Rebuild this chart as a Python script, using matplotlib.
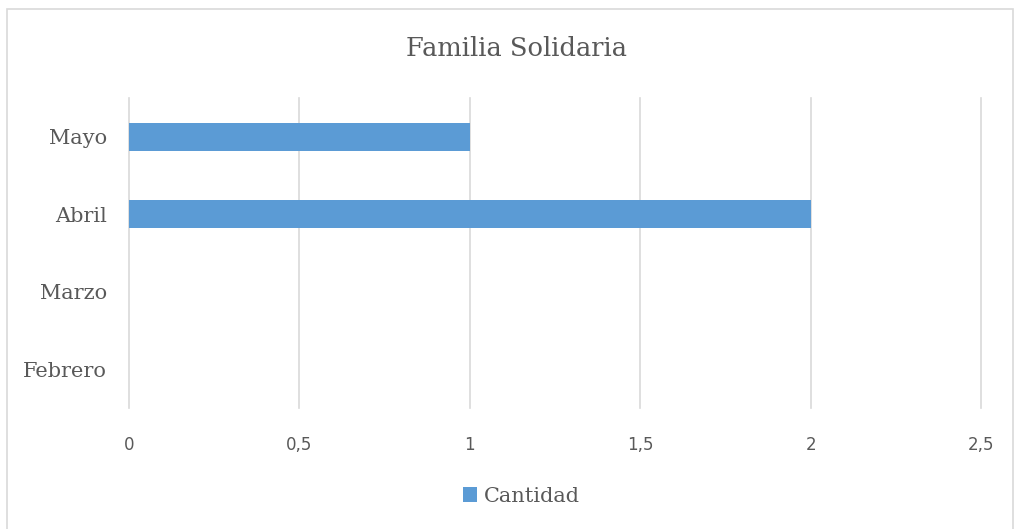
import numpy as np
import matplotlib.pyplot as plt
from matplotlib.patches import Rectangle

meses = ['Febrero', 'Marzo', 'Abril', 'Mayo']
cantidad = [0, 0, 2, 1]
xticks = [0, 0.5, 1, 1.5, 2, 2.5]
xlabels = ['0', '0,5', '1', '1,5', '2', '2,5']

W, H = 1015, 529
fig = plt.figure(figsize=(W / 100, H / 100), dpi=100)

# chart border
fig.patches.append(Rectangle((7 / W, -0.01), (1013 - 7) / W, (H - 9) / H + 0.01,
                             transform=fig.transFigure, fill=False,
                             edgecolor='#d9d9d9', linewidth=1.2))

ax = fig.add_axes([129 / W, (H - 408) / H, (981 - 129) / W, (408 - 98) / H])
ypos = np.arange(len(meses))
ax.barh(ypos, cantidad, height=0.36, color='#5b9bd5', label='Cantidad', zorder=3)

ax.set_xlim(0, 2.5)
ax.set_ylim(-0.5, 3.5)
ax.set_xticks(xticks)
ax.set_xticklabels(xlabels, fontsize=12, color='#595959', family='DejaVu Sans')
ax.set_yticks(ypos)
ax.set_yticklabels(meses, fontsize=15, color='#595959', family='DejaVu Serif')
ax.tick_params(length=0)
ax.tick_params(axis='x', pad=20)
ax.tick_params(axis='y', pad=16)
ax.grid(axis='x', color='#d9d9d9', linewidth=1.2, zorder=0)
for g in ax.xaxis.get_gridlines():
    g.set_clip_on(False)
for s in ax.spines.values():
    s.set_visible(False)

fig.text(516 / W, (H - 48) / H, 'Familia Solidaria', ha='center', va='center',
         fontsize=18.5, color='#595959', family='DejaVu Serif')

fig.legend(loc='center', bbox_to_anchor=(521 / W, (H - 496) / H), frameon=False,
           prop={'family': 'DejaVu Serif', 'size': 15}, labelcolor='#595959',
           handlelength=0.7, handleheight=0.7, handletextpad=0.3)

plt.savefig('out.png', dpi=100)
